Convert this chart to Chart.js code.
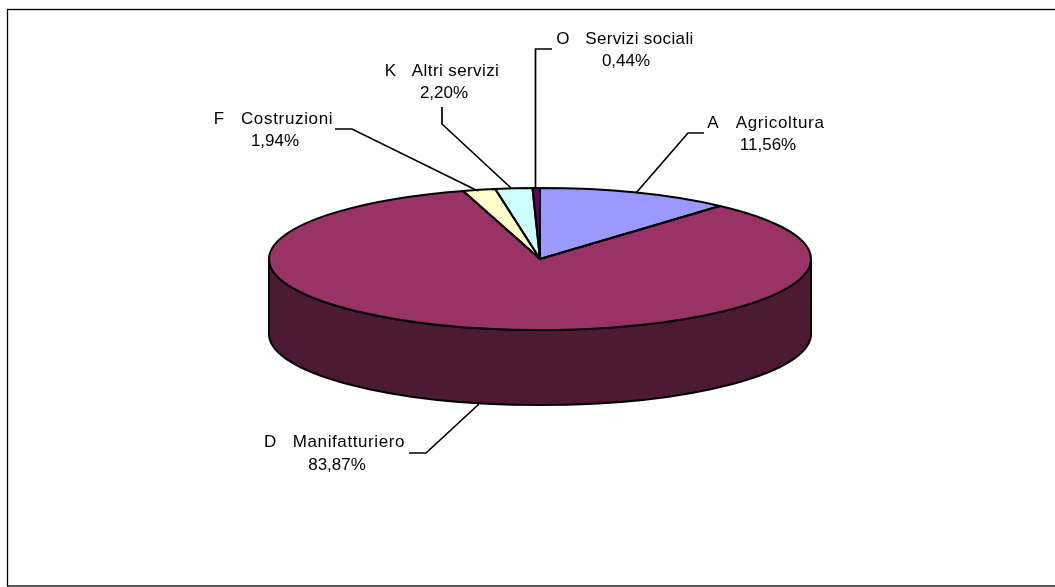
<!DOCTYPE html>
<html>
<head>
<meta charset="utf-8">
<style>html,body{margin:0;padding:0;background:#fff;overflow:hidden}canvas{display:block}</style>
<script src="https://cdn.jsdelivr.net/npm/chart.js@4"></script>
</head>
<body>
<canvas id="c" width="1055" height="587"></canvas>
<script>
const categories = ["A   Agricoltura", "D   Manifatturiero", "F   Costruzioni", "K   Altri servizi", "O   Servizi sociali"];
const shares = [11.56, 83.87, 1.94, 2.20, 0.44];
const sliceColors = ["#9999FF", "#993366", "#FFFFCC", "#CCFFFF", "#660066"];

const CX = 540, CY = 259, RX = 271, RY = 71, DEPTH = 75;
const SIDE = "#4D1A33";
const labelBoxes = [
  {x1: 766, x2: 768, y1: 128, y2: 150, sp: 0.7, line: [[704,133],[688,133],[636,193]]},
  {x1: 334.5, x2: 337, y1: 447, y2: 470, sp: 0.6, line: [[409,453],[426,453],[479,404]]},
  {x1: 273.5, x2: 275, y1: 124, y2: 146, sp: 0.67, line: [[335,129],[352,129],[478,191]]},
  {x1: 442, x2: 444, y1: 76, y2: 98, sp: 0.4, line: [[442,107],[442,124],[511,188]]},
  {x1: 625, x2: 626, y1: 44, y2: 66, sp: 0.37, line: [[552,49],[535.5,49],[535.5,189]]}
];

const tilt = {
  id: "tilt",
  beforeDatasetsDraw(chart) {
    const ctx = chart.ctx;
    ctx.save();
    ctx.lineWidth = 2;
    ctx.strokeStyle = "#000";
    ctx.lineJoin = "round";
    ctx.beginPath();
    ctx.ellipse(CX, CY + DEPTH, RX, RY, 0, 0, Math.PI, false);
    ctx.lineTo(CX - RX, CY);
    ctx.ellipse(CX, CY, RX, RY, 0, Math.PI, 0, true);
    ctx.closePath();
    ctx.fillStyle = SIDE;
    ctx.fill();
    ctx.stroke();
    ctx.restore();

    const arc = chart.getDatasetMeta(0).data[0];
    ctx.save();
    ctx.translate(CX, CY);
    ctx.scale(RX / arc.outerRadius, RY / arc.outerRadius);
    ctx.translate(-arc.x, -arc.y);
  },
  afterDatasetsDraw(chart) {
    const ctx = chart.ctx;
    ctx.restore();
    ctx.save();
    ctx.lineWidth = 2;
    ctx.strokeStyle = "#000";
    ctx.lineJoin = "round";
    chart.getDatasetMeta(0).data.forEach(a => {
      ctx.beginPath();
      ctx.moveTo(CX, CY);
      ctx.ellipse(CX, CY, RX, RY, 0, a.startAngle, a.endAngle, false);
      ctx.closePath();
      ctx.stroke();
    });
    ctx.restore();
  },
  afterDraw(chart) {
    const ctx = chart.ctx;
    ctx.save();
    ctx.strokeStyle = "#000";
    ctx.lineWidth = 1.3;
    ctx.strokeRect(7.5, 9.5, 1060, 576.5);
    ctx.lineWidth = 1.7;
    ctx.fillStyle = "#000";
    ctx.font = '17px "Liberation Sans"';
    ctx.textAlign = "center";
    ctx.textBaseline = "alphabetic";
    categories.forEach((name, i) => {
      const b = labelBoxes[i];
      ctx.letterSpacing = b.sp + "px";
      ctx.fillText(name, b.x1, b.y1);
      ctx.letterSpacing = "0px";
      ctx.fillText(shares[i].toFixed(2).replace(".", ",") + "%", b.x2, b.y2);
      ctx.beginPath();
      b.line.forEach((p, k) => k ? ctx.lineTo(p[0], p[1]) : ctx.moveTo(p[0], p[1]));
      ctx.stroke();
    });
    ctx.restore();
  }
};

new Chart(document.getElementById("c"), {
  type: "pie",
  data: {
    labels: categories,
    datasets: [{ data: shares, backgroundColor: sliceColors, borderWidth: 0, radius: RX }]
  },
  options: {
    responsive: false,
    animation: false,
    plugins: { legend: { display: false }, tooltip: { enabled: false } }
  },
  plugins: [tilt]
});
</script>
</body>
</html>
